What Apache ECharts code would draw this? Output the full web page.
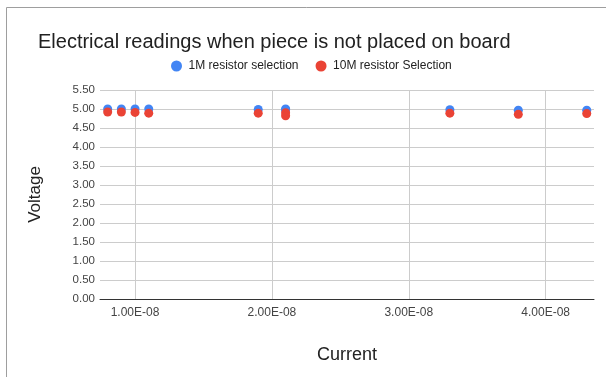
<!DOCTYPE html>
<html>
<head>
<meta charset="utf-8">
<script src="https://cdn.jsdelivr.net/npm/echarts@6/dist/echarts.min.js"></script>
<style>
  html, body { margin: 0; padding: 0; background: #ffffff; }
  #chart { width: 606px; height: 377px; }
</style>
</head>
<body>
<div id="chart"></div>
<script>
// Measured current (A) for each reading
const current = [0.8e-8, 0.9e-8, 1.0e-8, 1.1e-8, 1.9e-8, 2.1e-8, 2.1e-8, 3.3e-8, 3.8e-8, 4.3e-8];
// Voltage with the 1M resistor selected
const voltage1M = [5.00, 5.00, 5.00, 5.00, 4.99, 5.00, 4.98, 4.98, 4.97, 4.97];
// Voltage with the 10M resistor selected
const voltage10M = [4.92, 4.92, 4.91, 4.89, 4.89, 4.90, 4.82, 4.89, 4.86, 4.88];
// Labelled positions on the current axis
const currentTicks = [1e-8, 2e-8, 3e-8, 4e-8];

const seriesNames = ['1M resistor selection', '10M resistor Selection'];
const FONT = '"Liberation Sans", Arial, sans-serif';

function sci(v) {
  const parts = v.toExponential(2).split('e');
  const n = parseInt(parts[1], 10);
  return parts[0] + 'E' + (n < 0 ? '-' : '+') + String(Math.abs(n)).padStart(2, '0');
}

const pairs = (ys) => current.map((x, i) => [x, ys[i]]);

const chart = echarts.init(document.getElementById('chart'), null, { renderer: 'canvas' });
chart.setOption({
  animation: false,
  backgroundColor: '#ffffff',
  textStyle: { fontFamily: FONT },
  graphic: [
    { type: 'line', shape: { x1: 6.5, y1: 7.5, x2: 6.5, y2: 377 }, style: { stroke: '#9e9e9e', lineWidth: 1 } },
    { type: 'line', shape: { x1: 6.5, y1: 7.5, x2: 606, y2: 7.5 }, style: { stroke: '#9e9e9e', lineWidth: 1 } }
  ],
  title: {
    text: 'Electrical readings when piece is not placed on board',
    left: 33, top: 27,
    textStyle: { fontFamily: FONT, fontSize: 20, fontWeight: 'normal', color: '#212121' }
  },
  legend: {
    top: 55, left: 166,
    icon: 'circle', itemWidth: 14, itemHeight: 11, itemGap: 17,
    textStyle: { fontFamily: FONT, fontSize: 12, color: '#222' },
    data: seriesNames
  },
  grid: { left: 100, right: 12, top: 90, bottom: 78, containLabel: false },
  xAxis: {
    type: 'value',
    min: 0.744e-8, max: 4.353e-8,
    name: 'Current', nameLocation: 'middle', nameGap: 47,
    nameTextStyle: { fontFamily: FONT, fontSize: 18, color: '#222' },
    axisLine: { show: true, lineStyle: { color: '#333', width: 1 } },
    axisTick: { show: false, customValues: currentTicks },
    axisLabel: { customValues: currentTicks, formatter: sci, color: '#444', fontSize: 12, margin: 8 },
    splitLine: { show: true, lineStyle: { color: '#cccccc', width: 1 } }
  },
  yAxis: {
    type: 'value',
    min: 0, max: 5.5, interval: 0.5,
    name: 'Voltage', nameLocation: 'middle', nameGap: 56,
    nameTextStyle: { fontFamily: FONT, fontSize: 17, color: '#222' },
    axisLine: { show: false },
    axisTick: { show: false },
    axisLabel: { formatter: (v) => v.toFixed(2), color: '#444', fontSize: 11.5, margin: 5 },
    splitLine: { show: true, lineStyle: { color: '#cccccc', width: 1 } }
  },
  series: [
    {
      name: seriesNames[0], type: 'scatter', symbol: 'circle', symbolSize: 9,
      itemStyle: { color: '#4285f4', opacity: 1 },
      data: pairs(voltage1M)
    },
    {
      name: seriesNames[1], type: 'scatter', symbol: 'circle', symbolSize: 9,
      itemStyle: { color: '#ea4335', opacity: 1 },
      data: pairs(voltage10M)
    }
  ]
});
</script>
</body>
</html>
